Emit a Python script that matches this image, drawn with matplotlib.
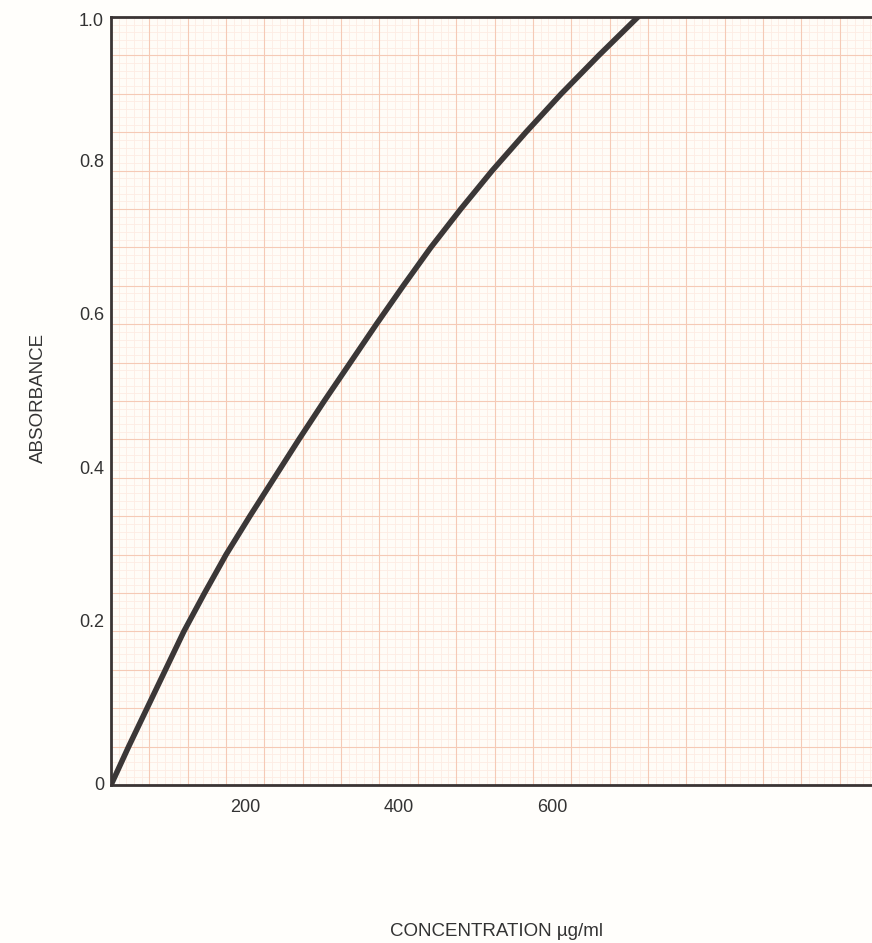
import numpy as np
import matplotlib.pyplot as plt

# calibration curve
conc = [0, 23, 47, 71, 95, 122, 150, 181, 213, 245, 278, 312, 346, 381, 417,
        456, 497, 541, 587, 636, 687]
absorbance = [0.0, 0.05, 0.1, 0.15, 0.2, 0.25, 0.3, 0.35, 0.4, 0.45, 0.5,
              0.55, 0.6, 0.65, 0.7, 0.75, 0.8, 0.85, 0.9, 0.95, 1.0]

x_ticks = [200, 400, 600]
x_labels = ["200", "400", "600"]
y_ticks = [0, 0.2, 0.4, 0.6, 0.8, 1.0]
y_labels = ["0", "0.2", "0.4", "0.6", "0.8", "1.0"]

plt.rcParams['font.family'] = ['Liberation Sans', 'DejaVu Sans']

fig = plt.figure(figsize=(8.72, 9.43), dpi=100)
fig.patch.set_facecolor('#fffefb')
ax = fig.add_axes([111 / 872, 158 / 943, 1000 * 0.767 / 872, 768 / 943])
ax.set_facecolor('#fffcf7')

ax.set_xlim(0, 1000)
ax.set_ylim(0, 1.0)

# graph paper: fine 10 / 0.01 lines, heavier 50 / 0.05 lines
fine_x = np.arange(0, 1001, 10)
fine_y = np.arange(0, 101) / 100
ax.vlines(fine_x, 0, 1, color='#fdece3', linewidth=0.6, zorder=0)
ax.hlines(fine_y, 0, 1000, color='#fdece3', linewidth=0.6, zorder=0)
ax.vlines(fine_x[::5], 0, 1, color='#f5cab6', linewidth=0.8, zorder=0)
ax.hlines(fine_y[::5], 0, 1000, color='#f5cab6', linewidth=0.8, zorder=0)

ax.plot(conc, absorbance, color='#3b3737', linewidth=4, solid_capstyle='round',
        solid_joinstyle='round', zorder=3)

# labels sit left of their ticks like on the printed sheet
ax.set_xticks([])
ax.set_yticks([])
for x, lab in zip(x_ticks, x_labels):
    ax.annotate(lab, (x, 0), xytext=(-3, -10), textcoords='offset points',
                ha='right', va='top', fontsize=13, color='#333333')
for y, lab in zip(y_ticks, y_labels):
    va = 'center' if y in (0, 1.0) else 'bottom'
    dy = -3 if y == 1.0 else 0
    ax.annotate(lab, (0, y), xytext=(-5, dy), textcoords='offset points',
                ha='right', va=va, fontsize=13, color='#333333')

for side in ['left', 'bottom', 'top', 'right']:
    ax.spines[side].set_color('#3a3434')
    ax.spines[side].set_linewidth(2)
    ax.spines[side].set_zorder(4)

fig.text(38 / 872, 1 - 398 / 943, "ABSORBANCE", rotation=90, ha='center', va='center',
         fontsize=13.5, color='#333333')
fig.text(496 / 872, 1 - 932 / 943, "CONCENTRATION µg/ml", ha='center', va='center',
         fontsize=13.5, color='#333333')

fig.savefig('out.png', dpi=100, facecolor=fig.get_facecolor())
